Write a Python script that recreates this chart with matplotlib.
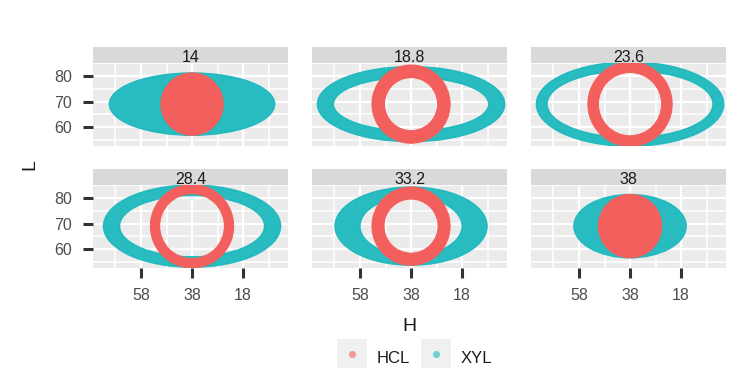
import matplotlib
matplotlib.use("Agg")
import matplotlib.pyplot as plt
from matplotlib.path import Path
from matplotlib.patches import PathPatch
from matplotlib.transforms import Affine2D

plt.rcParams['font.family'] = ['Liberation Sans', 'DejaVu Sans']

# ---------------- data ----------------
facets = ["14", "18.8", "23.6", "28.4", "33.2", "38"]
center_h = 38
center_l = 69
# HCL (red): ring radii in H/L units (inner 0 -> filled disk)
hcl_outer = [12.2, 15.3, 16.5, 16.3, 15.3, 12.4]
hcl_inner = [0.0, 10.4, 12.4, 12.7, 10.6, 0.0]
# XYL (teal): elliptical ring semi-axes (H direction, L direction)
xyl_outer_h = [32.4, 36.7, 36.7, 34.7, 29.8, 22.0]
xyl_outer_l = [12.2, 14.7, 16.5, 16.1, 15.3, 12.4]
xyl_inner_h = [0.0, 30.4, 32.5, 28.4, 20.0, 0.0]
xyl_inner_l = [0.0, 10.5, 13.1, 12.0, 11.5, 0.0]
h_ticks = [58, 38, 18]
h_minor = [68, 48, 28, 8]
l_ticks = [60, 70, 80]
l_minor = [55, 65, 75, 85]
h_lim = (76.8, 0.4)
l_lim = (52.8, 85.1)
series = ["HCL", "XYL"]
colors = {"HCL": "#F35F5C", "XYL": "#1DB9BE"}

W, H = 750, 375
fig = plt.figure(figsize=(W / 100, H / 100), dpi=100)
fig.patch.set_facecolor("white")

col_x = [93, 312, 531]
panel_w = 195
row_top = [63, 185]
panel_h = 82.5
strip_h = 16


def ring_path(cx, cy, a_out, b_out, a_in, b_in):
    circ = Path.unit_circle()
    outer = Affine2D().scale(a_out, b_out).translate(cx, cy).transform_path(circ)
    if a_in > 0:
        inner = Affine2D().scale(a_in, -b_in).translate(cx, cy).transform_path(circ)
        return Path.make_compound_path(outer, inner)
    return outer


def fx(px):
    return px / W


def fy(px):
    return 1 - px / H


for i, lab in enumerate(facets):
    r, c = divmod(i, 3)
    x0 = col_x[c]
    top = row_top[r]
    ax = fig.add_axes([fx(x0), fy(top + panel_h), panel_w / W, panel_h / H])
    ax.set_facecolor("#EBEBEB")
    for s in ax.spines.values():
        s.set_visible(False)
    ax.set_xlim(*h_lim)
    ax.set_ylim(*l_lim)
    ax.set_xticks(h_ticks)
    ax.set_xticks(h_minor, minor=True)
    ax.set_yticks(l_ticks)
    ax.set_yticks(l_minor, minor=True)
    ax.grid(which="major", color="white", lw=1.6)
    ax.grid(which="minor", color="white", lw=1.1)
    ax.set_axisbelow(True)
    ax.tick_params(which="minor", length=0)
    ax.tick_params(which="major", length=7.5, width=2.2, color="#333333",
                   labelcolor="#4D4D4D", labelsize=11.5, pad=7.5)
    if c != 0:
        ax.tick_params(axis="y", which="major", left=False, labelleft=False)
    if r != 1:
        ax.tick_params(axis="x", which="major", bottom=False, labelbottom=False)

    # XYL (teal)
    p = ring_path(center_h, center_l, xyl_outer_h[i], xyl_outer_l[i],
                  xyl_inner_h[i], xyl_inner_l[i])
    ax.add_patch(PathPatch(p, facecolor=colors["XYL"], edgecolor=colors["XYL"],
                           lw=1.0, alpha=0.95, zorder=2))
    # HCL (red)
    p = ring_path(center_h, center_l, hcl_outer[i], hcl_outer[i],
                  hcl_inner[i], hcl_inner[i])
    ax.add_patch(PathPatch(p, facecolor=colors["HCL"], edgecolor=colors["HCL"],
                           lw=0.8, zorder=3))

    # strip
    sax = fig.add_axes([fx(x0), fy(top), panel_w / W, strip_h / H])
    sax.set_facecolor("#D9D9D9")
    sax.set_xticks([])
    sax.set_yticks([])
    for s in sax.spines.values():
        s.set_visible(False)
    sax.text(0.5, 1.0 / strip_h, lab, ha="center", va="baseline",
             fontsize=11.5, color="#1A1A1A", transform=sax.transAxes)

# axis titles
fig.text(fx(409), fy(331), "H", ha="center", va="baseline", fontsize=14,
         color="#1A1A1A")
fig.text(fx(30), fy(165), "L", ha="center", va="center", rotation=90,
         fontsize=14, color="#1A1A1A")

# legend
key_x = [337, 421]
for name, kx in zip(series, key_x):
    kax = fig.add_axes([fx(kx), fy(368), 30 / W, 29 / H])
    kax.set_facecolor("#F0F0F0")
    kax.set_xticks([])
    kax.set_yticks([])
    for s in kax.spines.values():
        s.set_visible(False)
    kax.set_xlim(0, 1)
    kax.set_ylim(0, 1)
    kax.scatter([0.5], [0.5], s=26, color=colors[name], alpha=0.6, lw=0)
    fig.text(fx(kx + 40), fy(363), name, ha="left", va="baseline",
             fontsize=12, color="#1A1A1A")

fig.savefig("out.png", dpi=100)
